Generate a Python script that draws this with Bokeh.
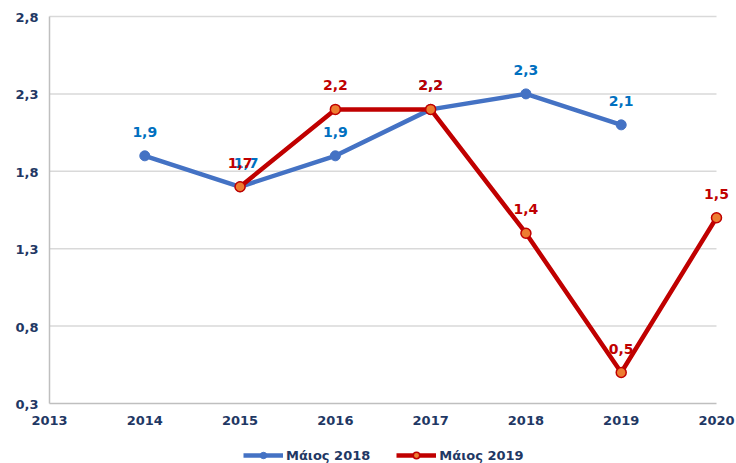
from bokeh.plotting import figure
from bokeh.models import Legend, LegendItem, ColumnDataSource, LabelSet
from bokeh.core.properties import value
from bokeh.embed import file_html
from bokeh.resources import INLINE

# ---- data ----
years_2018 = [2014, 2015, 2016, 2017, 2018, 2019]
vals_2018 = [1.9, 1.7, 1.9, 2.2, 2.3, 2.1]
years_2019 = [2015, 2016, 2017, 2018, 2019, 2020]
vals_2019 = [1.7, 2.2, 2.2, 1.4, 0.5, 1.5]
x_ticks = [2013, 2014, 2015, 2016, 2017, 2018, 2019, 2020]
y_ticks = [0.3, 0.8, 1.3, 1.8, 2.3, 2.8]
series_names = ["Μάιος 2018", "Μάιος 2019"]

def fmt(v):
    return f"{v:.1f}".replace(".", ",")

NAVY = "#1F3864"
BLUE = "#4472C4"
RED = "#C00000"
AXIS_GREY = "#BFBFBF"
GRID_GREY = "#D9D9D9"
FONT = "DejaVu Sans"

# geometry (pixels)
plot_w, plot_h = 667, 387     # size of the value area (2013..2020 x 0.3..2.8)
pad_l, pad_r = 44, 19         # room for the value-axis labels and the last year label
pad_t, pad_b = 10, 60         # room for the top label, year labels and legend
ppy = plot_w / (x_ticks[-1] - x_ticks[0])
ppu = plot_h / (y_ticks[-1] - y_ticks[0])

p = figure(frame_width=plot_w + pad_l + pad_r, frame_height=plot_h + pad_t + pad_b,
           output_backend="svg", toolbar_location=None,
           x_range=(x_ticks[0] - pad_l / ppy, x_ticks[-1] + pad_r / ppy),
           y_range=(y_ticks[0] - pad_b / ppu, y_ticks[-1] + pad_t / ppu),
           min_border_left=49 - pad_l, min_border_right=1,
           min_border_top=16 - pad_t, min_border_bottom=0)
p.outline_line_color = None
p.background_fill_color = "white"
p.xaxis.visible = False
p.yaxis.visible = False
p.xgrid.grid_line_color = None
p.ygrid.grid_line_color = None

# horizontal gridlines limited to the year span; the lowest one is the x axis line
p.segment(x0=[x_ticks[0]] * len(y_ticks), x1=[x_ticks[-1]] * len(y_ticks),
          y0=y_ticks, y1=y_ticks,
          line_color=[AXIS_GREY] + [GRID_GREY] * (len(y_ticks) - 1), line_width=1.5)
# y axis line
p.segment(x0=[x_ticks[0]], x1=[x_ticks[0]], y0=[y_ticks[0]], y1=[y_ticks[-1]],
          line_color=AXIS_GREY, line_width=1.5)

# year labels under the x axis line
xsrc = ColumnDataSource(dict(x=x_ticks, y=[y_ticks[0]] * len(x_ticks), t=[str(v) for v in x_ticks]))
p.add_layout(LabelSet(x="x", y="y", text="t", source=xsrc, y_offset=-17,
                      text_align="center", text_baseline="middle", text_color=NAVY,
                      text_font=value(FONT), text_font_style="bold", text_font_size="13px"))
# value labels left of the y axis line
ysrc = ColumnDataSource(dict(x=[x_ticks[0]] * len(y_ticks), y=y_ticks, t=[fmt(v) for v in y_ticks]))
p.add_layout(LabelSet(x="x", y="y", text="t", source=ysrc, x_offset=-11, y_offset=-1,
                      text_align="right", text_baseline="middle", text_color=NAVY,
                      text_font=value(FONT), text_font_style="bold", text_font_size="13px"))

# blue label nudged right where it coincides with the red one (2015)
blue_xoff = [6 if (yr in years_2019 and vals_2019[years_2019.index(yr)] == v and yr != 2017) else 0
             for yr, v in zip(years_2018, vals_2018)]
src18 = ColumnDataSource(dict(x=years_2018, y=vals_2018, t=[fmt(v) for v in vals_2018],
                              xo=blue_xoff))
src19 = ColumnDataSource(dict(x=years_2019, y=vals_2019, t=[fmt(v) for v in vals_2019]))

l18 = p.line("x", "y", source=src18, line_color=BLUE, line_width=4.5)
m18 = p.scatter("x", "y", source=src18, size=10, fill_color=BLUE, line_color=BLUE)
l19 = p.line("x", "y", source=src19, line_color=RED, line_width=4.5)
m19 = p.scatter("x", "y", source=src19, size=10, fill_color="#ED7D31", line_color=RED, line_width=1.5)

lab18 = LabelSet(x="x", y="y", text="t", source=src18, y_offset=24, x_offset="xo",
                 text_align="center", text_baseline="middle", text_color="#0070C0",
                 text_font=value(FONT), text_font_style="bold", text_font_size="14px")
lab19 = LabelSet(x="x", y="y", text="t", source=src19, y_offset=24,
                 text_align="center", text_baseline="middle", text_color=RED,
                 text_font=value(FONT), text_font_style="bold", text_font_size="14px")
p.add_layout(lab18)
p.add_layout(lab19)

legend = Legend(items=[LegendItem(label=series_names[0], renderers=[l18, m18]),
                       LegendItem(label=series_names[1], renderers=[l19, m19])],
                orientation="horizontal", location=(194 + pad_l, 0),
                border_line_color=None, background_fill_alpha=0,
                label_text_font=FONT, label_text_font_style="bold",
                label_text_font_size="13px", label_text_color=NAVY,
                glyph_width=40, glyph_height=16, label_height=16, label_standoff=3,
                spacing=26, padding=0, margin=0)
p.add_layout(legend)

open("out.html", "w").write(file_html(p, INLINE))
